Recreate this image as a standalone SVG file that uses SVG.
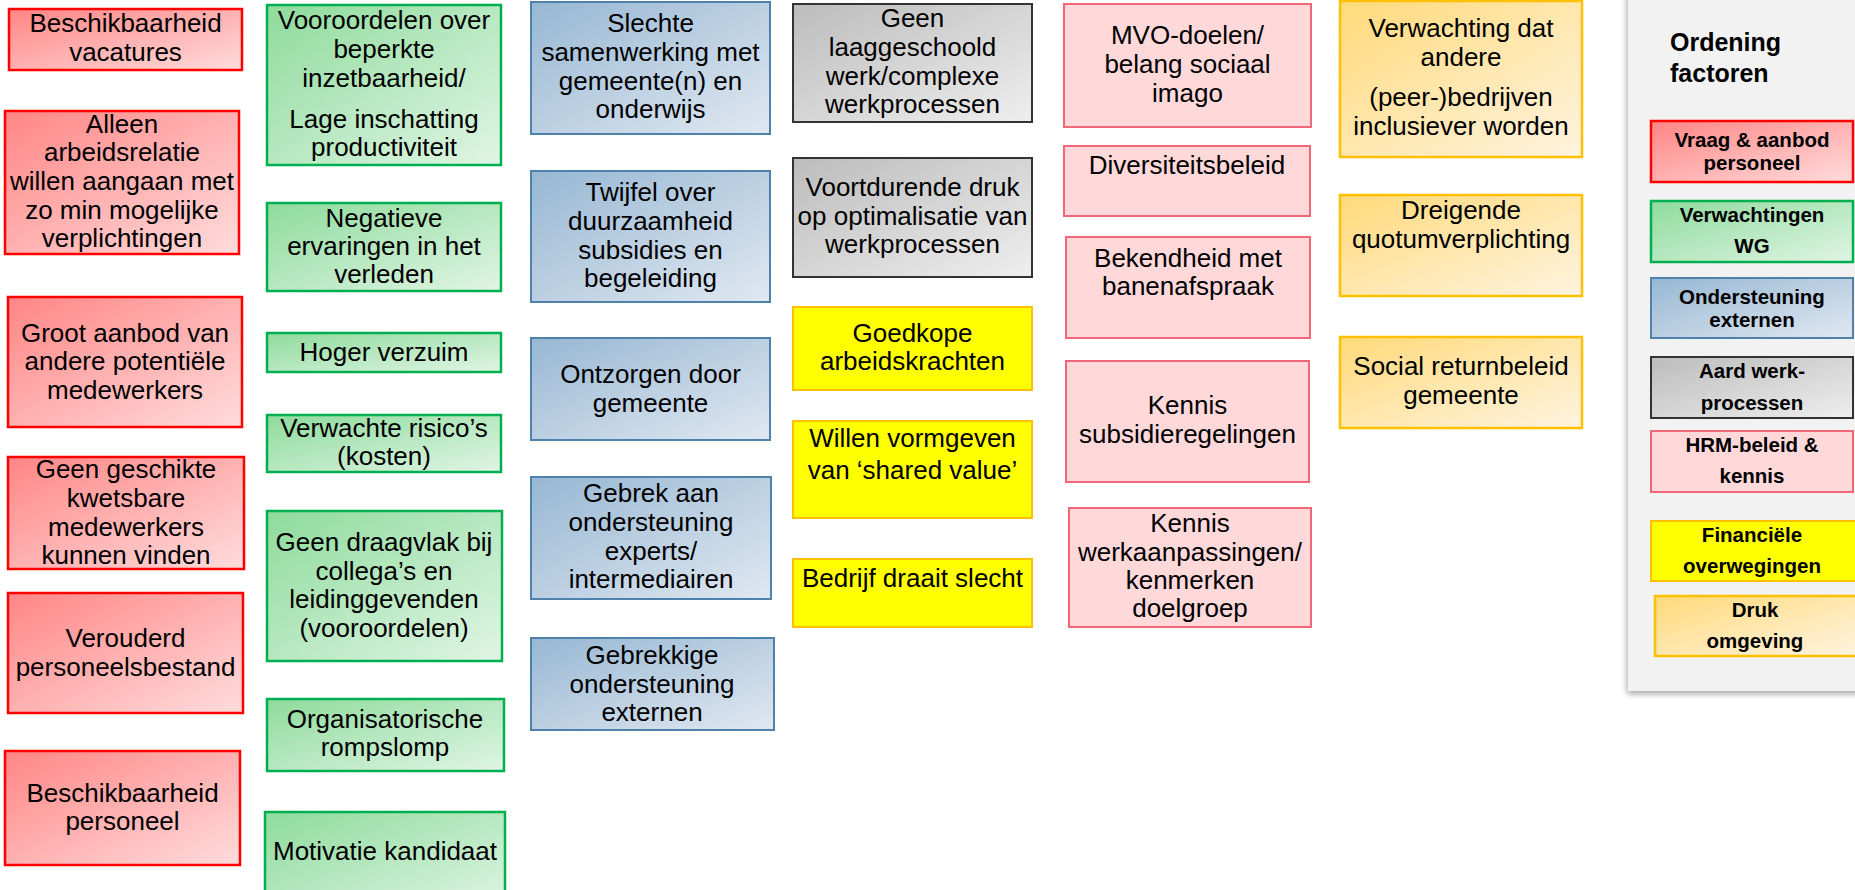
<svg xmlns="http://www.w3.org/2000/svg" width="1855" height="890" viewBox="0 0 1855 890">
<defs>
<linearGradient id="gRed" x1="0" y1="0" x2="1" y2="1"><stop offset="0" stop-color="#ff8585"/><stop offset="1" stop-color="#ffdcdc"/></linearGradient>
<linearGradient id="gGreen" x1="0" y1="0" x2="1" y2="1"><stop offset="0" stop-color="#8edb9c"/><stop offset="1" stop-color="#e0f5e4"/></linearGradient>
<linearGradient id="gBlue" x1="0" y1="0" x2="1" y2="1"><stop offset="0" stop-color="#97b7d3"/><stop offset="1" stop-color="#e0e8f1"/></linearGradient>
<linearGradient id="gGray" x1="0" y1="0" x2="1" y2="1"><stop offset="0" stop-color="#bcbcbc"/><stop offset="1" stop-color="#eeeeee"/></linearGradient>
<linearGradient id="gOrange" x1="0" y1="0" x2="1" y2="1"><stop offset="0" stop-color="#ffda7a"/><stop offset="1" stop-color="#fff3e0"/></linearGradient>
<filter id="shadow" x="-10%" y="-10%" width="120%" height="120%"><feGaussianBlur in="SourceAlpha" stdDeviation="3"/><feOffset dx="-1" dy="3"/><feComponentTransfer><feFuncA type="linear" slope="0.35"/></feComponentTransfer><feMerge><feMergeNode/><feMergeNode in="SourceGraphic"/></feMerge></filter>
</defs>
<style>
text{font-family:"Liberation Sans",Arial,sans-serif;font-size:26px;fill:#000;text-anchor:middle}
.lg{font-size:20.5px;font-weight:bold}
.ttl{font-size:25px;font-weight:bold;text-anchor:start}
.red{fill:url(#gRed);stroke:#ff0000;stroke-width:2.5}
.green{fill:url(#gGreen);stroke:#00b050;stroke-width:2.5}
.blue{fill:url(#gBlue);stroke:#4f81ad;stroke-width:2}
.gray{fill:url(#gGray);stroke:#333333;stroke-width:2}
.pink{fill:#ffd8da;stroke:#f06878;stroke-width:2}
.yellow{fill:#ffff00;stroke:#ffc000;stroke-width:2}
.orange{fill:url(#gOrange);stroke:#ffc000;stroke-width:2.5}
</style>
<rect width="1855" height="890" fill="#ffffff"/>

<!-- Legend panel -->
<g id="legend">
<rect x="1628" y="-10" width="240" height="701" fill="#f2f2f2" filter="url(#shadow)"/>
<text class="ttl" x="1670" y="51">Ordening</text>
<text class="ttl" x="1670" y="82">factoren</text>
<rect class="red" x="1651" y="121" width="202" height="61"/>
<text class="lg" x="1752" y="147">Vraag &amp; aanbod</text>
<text class="lg" x="1752" y="170">personeel</text>
<rect class="green" x="1651" y="201" width="202" height="61"/>
<text class="lg" x="1752" y="222">Verwachtingen</text>
<text class="lg" x="1752" y="253">WG</text>
<rect class="blue" x="1651" y="278" width="202" height="60"/>
<text class="lg" x="1752" y="304">Ondersteuning</text>
<text class="lg" x="1752" y="327">externen</text>
<rect class="gray" x="1651" y="357" width="202" height="61"/>
<text class="lg" x="1752" y="378">Aard werk-</text>
<text class="lg" x="1752" y="410">processen</text>
<rect class="pink" x="1651" y="431" width="202" height="61"/>
<text class="lg" x="1752" y="452">HRM-beleid &amp;</text>
<text class="lg" x="1752" y="483">kennis</text>
<rect class="yellow" x="1651" y="521" width="206" height="60"/>
<text class="lg" x="1752" y="542">Financiële</text>
<text class="lg" x="1752" y="573">overwegingen</text>
<rect class="orange" x="1655" y="596" width="202" height="60"/>
<text class="lg" x="1755" y="617">Druk</text>
<text class="lg" x="1755" y="648">omgeving</text>
</g>

<!-- Column 1: red -->
<g id="r1"><rect class="red" x="9" y="9" width="233" height="61"/>
<text x="125.5" y="32.3">Beschikbaarheid</text><text x="125.5" y="61">vacatures</text></g>
<g id="r2"><rect class="red" x="5" y="111" width="234" height="143"/>
<text x="122" y="132.7">Alleen</text><text x="122" y="161.3">arbeidsrelatie</text><text x="122" y="190">willen aangaan met</text><text x="122" y="218.7">zo min mogelijke</text><text x="122" y="247.3">verplichtingen</text></g>
<g id="r3"><rect class="red" x="8" y="297" width="234" height="130"/>
<text x="125" y="341.7">Groot aanbod van</text><text x="125" y="370.3">andere potentiële</text><text x="125" y="399">medewerkers</text></g>
<g id="r4"><rect class="red" x="8" y="457" width="236" height="112"/>
<text x="126" y="478.3">Geen geschikte</text><text x="126" y="507">kwetsbare</text><text x="126" y="535.7">medewerkers</text><text x="126" y="564.3">kunnen vinden</text></g>
<g id="r5"><rect class="red" x="8" y="593" width="235" height="120"/>
<text x="125.5" y="646.7">Verouderd</text><text x="125.5" y="675.7">personeelsbestand</text></g>
<g id="r6"><rect class="red" x="5" y="751" width="235" height="114"/>
<text x="122.5" y="801.7">Beschikbaarheid</text><text x="122.5" y="830">personeel</text></g>

<!-- Column 2: green -->
<g id="g1"><rect class="green" x="267" y="5" width="234" height="160"/>
<text x="384" y="29.3">Vooroordelen over</text><text x="384" y="58.3">beperkte</text><text x="384" y="87.3">inzetbaarheid/</text><text x="384" y="127.7">Lage inschatting</text><text x="384" y="156">productiviteit</text></g>
<g id="g2"><rect class="green" x="267" y="203" width="234" height="88"/>
<text x="384" y="226.7">Negatieve</text><text x="384" y="255">ervaringen in het</text><text x="384" y="283.3">verleden</text></g>
<g id="g3"><rect class="green" x="267" y="333" width="234" height="39"/>
<text x="384" y="360.7">Hoger verzuim</text></g>
<g id="g4"><rect class="green" x="267" y="415" width="234" height="57"/>
<text x="384" y="436.7">Verwachte risico’s</text><text x="384" y="465">(kosten)</text></g>
<g id="g5"><rect class="green" x="267" y="511" width="235" height="150"/>
<text x="384" y="551">Geen draagvlak bij</text><text x="384" y="580">collega’s en</text><text x="384" y="608.3">leidinggevenden</text><text x="384" y="636.7">(vooroordelen)</text></g>
<g id="g6"><rect class="green" x="267" y="699" width="237" height="72"/>
<text x="385" y="727.7">Organisatorische</text><text x="385" y="756">rompslomp</text></g>
<g id="g7"><rect class="green" x="265" y="812" width="240" height="100"/>
<text x="385" y="860">Motivatie kandidaat</text></g>

<!-- Column 3: blue -->
<g id="b1"><rect class="blue" x="531" y="2" width="239" height="132"/>
<text x="650.5" y="32.3">Slechte</text><text x="650.5" y="61">samenwerking met</text><text x="650.5" y="90">gemeente(n) en</text><text x="650.5" y="118.3">onderwijs</text></g>
<g id="b2"><rect class="blue" x="531" y="171" width="239" height="131"/>
<text x="650.5" y="201">Twijfel over</text><text x="650.5" y="230">duurzaamheid</text><text x="650.5" y="259">subsidies en</text><text x="650.5" y="286.7">begeleiding</text></g>
<g id="b3"><rect class="blue" x="531" y="338" width="239" height="102"/>
<text x="650.5" y="382.7">Ontzorgen door</text><text x="650.5" y="411.7">gemeente</text></g>
<g id="b4"><rect class="blue" x="531" y="477" width="240" height="122"/>
<text x="651" y="502.3">Gebrek aan</text><text x="651" y="530.7">ondersteuning</text><text x="651" y="560">experts/</text><text x="651" y="588.3">intermediairen</text></g>
<g id="b5"><rect class="blue" x="531" y="638" width="243" height="92"/>
<text x="652" y="664">Gebrekkige</text><text x="652" y="692.5">ondersteuning</text><text x="652" y="721">externen</text></g>

<!-- Column 4: gray / yellow -->
<g id="k1"><rect class="gray" x="793" y="4" width="239" height="118"/>
<text x="912.5" y="27.3">Geen</text><text x="912.5" y="56">laaggeschoold</text><text x="912.5" y="85">werk/complexe</text><text x="912.5" y="113.3">werkprocessen</text></g>
<g id="k2"><rect class="gray" x="793" y="158" width="239" height="119"/>
<text x="912.5" y="196">Voortdurende druk</text><text x="912.5" y="225">op optimalisatie van</text><text x="912.5" y="253.3">werkprocessen</text></g>
<g id="y1"><rect class="yellow" x="793" y="307" width="239" height="83"/>
<text x="912.5" y="341.7">Goedkope</text><text x="912.5" y="370">arbeidskrachten</text></g>
<g id="y2"><rect class="yellow" x="793" y="421" width="239" height="97"/>
<text x="912.5" y="447.3">Willen vormgeven</text><text x="912.5" y="479.3">van ‘shared value’</text></g>
<g id="y3"><rect class="yellow" x="793" y="559" width="239" height="68"/>
<text x="912.5" y="586.7">Bedrijf draait slecht</text></g>

<!-- Column 5: pink -->
<g id="p1"><rect class="pink" x="1064" y="4" width="247" height="123"/>
<text x="1187.5" y="44.3">MVO-doelen/</text><text x="1187.5" y="73.3">belang sociaal</text><text x="1187.5" y="101.7">imago</text></g>
<g id="p2"><rect class="pink" x="1064" y="146" width="246" height="70"/>
<text x="1187" y="174.3">Diversiteitsbeleid</text></g>
<g id="p3"><rect class="pink" x="1066" y="237" width="244" height="101"/>
<text x="1188" y="267.3">Bekendheid met</text><text x="1188" y="295">banenafspraak</text></g>
<g id="p4"><rect class="pink" x="1066" y="361" width="243" height="121"/>
<text x="1187.5" y="414">Kennis</text><text x="1187.5" y="443.3">subsidieregelingen</text></g>
<g id="p5"><rect class="pink" x="1069" y="508" width="242" height="119"/>
<text x="1190" y="532.3">Kennis</text><text x="1190" y="560.7">werkaanpassingen/</text><text x="1190" y="589.3">kenmerken</text><text x="1190" y="617.3">doelgroep</text></g>

<!-- Column 6: orange -->
<g id="o1"><rect class="orange" x="1340" y="1" width="242" height="156"/>
<text x="1461" y="37.3">Verwachting dat</text><text x="1461" y="66">andere</text><text x="1461" y="106">(peer-)bedrijven</text><text x="1461" y="135">inclusiever worden</text></g>
<g id="o2"><rect class="orange" x="1340" y="195" width="242" height="101"/>
<text x="1461" y="219">Dreigende</text><text x="1461" y="247.7">quotumverplichting</text></g>
<g id="o3"><rect class="orange" x="1340" y="337" width="242" height="91"/>
<text x="1461" y="375">Social returnbeleid</text><text x="1461" y="404">gemeente</text></g>

<g id="connectors"/>
</svg>
